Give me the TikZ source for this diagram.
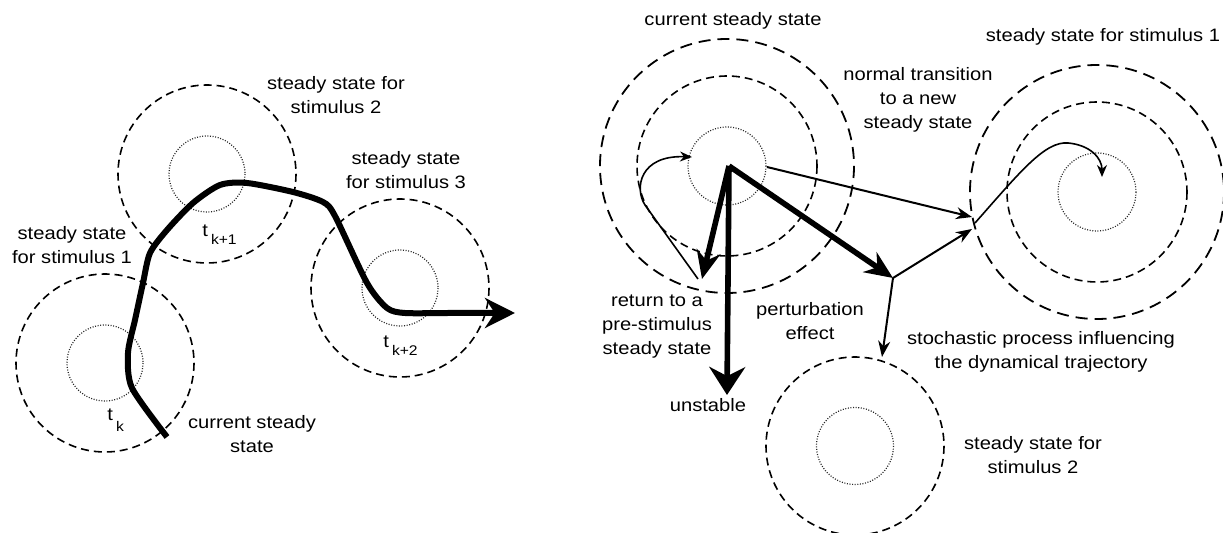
\documentclass[tikz,border=0pt]{standalone}
\usepackage{fontspec}
\setmainfont{Liberation Sans}[FakeStretch=1.12]
\usetikzlibrary{arrows.meta}
\newcommand{\tlab}[2][4pt]{t\,\raisebox{-#1}{\fontsize{7pt}{8pt}\selectfont #2}}

\begin{document}
\begin{tikzpicture}[x=0.5pt, y=-0.5pt,
  lbl/.style={align=center, font=\fontsize{9pt}{12pt}\selectfont, inner sep=0pt},
  ring/.style={line width=0.8pt, dash pattern=on 4pt off 2.5pt},
  bigring/.style={line width=0.9pt, dash pattern=on 6pt off 3.5pt},
  core/.style={black!85, line width=0.6pt, dash pattern=on 0.5pt off 0.8pt},
  trail/.style={line width=3pt, line join=round, -{Stealth[length=15pt,width=15pt]}},
  bigarrow/.style={line width=2.8pt, -{Stealth[length=14pt,width=12pt]}},
  smallarrow/.style={line width=1pt, -{Stealth[length=8pt,width=6pt]}},
  curlarrow/.style={line width=0.8pt, -{Stealth[length=6pt,width=5pt]}}]

  \useasboundingbox (0,0) rectangle (1223,533);

  % Left panel: steady states
  \coordinate (L1) at (105,363);
  \coordinate (L2) at (207,174);
  \coordinate (L3) at (400,288);
  \foreach \c in {L1,L2,L3} {
    \draw[ring] (\c) circle [radius=89];
    \draw[core] (\c) circle [radius=38];
  }

  % Left panel: trajectory
  \draw[trail] plot[smooth, tension=0.45] coordinates {(167,437) (132,388) (128,353) (135,320)
    (143,283) (150,253) (167,230) (193,203) (220,185) (247,183) (293,192) (323,202)
    (335,216) (367,283) (387,308) (405,313) (450,313) (515,313)};

  \node[lbl, anchor=base west] (tk) at (107,421) {\tlab[5.5pt]{k}};
  \node[lbl, anchor=base west] (tk1) at (202,237) {\tlab{k+1}};
  \node[lbl, anchor=base west] (tk2) at (383,348) {\tlab{k+2}};

  \node[lbl] (ls2) at (336,95) {steady state for\\stimulus 2};
  \node[lbl] (ls3) at (406,170) {steady state\\for stimulus 3};
  \node[lbl] (ls1) at (72,245) {steady state\\for stimulus 1};
  \node[lbl] (lcur) at (252,434) {current steady\\state};

  % Right panel: steady states
  \coordinate (A) at (727,166);
  \coordinate (B) at (1097,192);
  \coordinate (C) at (855,446);
  \foreach \c in {A,B} {
    \draw[bigring] (\c) circle [radius=127];
    \draw[ring] (\c) circle [radius=90];
    \draw[core] (\c) circle [radius=39];
  }
  \draw[ring] (C) circle [radius=89];
  \draw[core] (C) circle [radius=38.5];

  % Right panel: end points
  \coordinate (apex) at (729,166);
  \coordinate (ret) at (702,279);
  \coordinate (down) at (727,395);
  \coordinate (pert) at (893,278);
  \coordinate (edgeA) at (767,167);
  \coordinate (hitB) at (972,217);
  \coordinate (hitB2) at (972,229);
  \coordinate (toC) at (882,357);
  \coordinate (inB) at (975,223);
  \coordinate (dotB) at (1102,177);
  \coordinate (back) at (698,279);
  \coordinate (dotA) at (692,157);

  % Right panel: transitions
  \draw[bigarrow] (apex) -- (ret);
  \draw[bigarrow, -{Stealth[length=14pt,width=18pt]}] (apex) -- (down);
  \draw[bigarrow] (apex) -- (pert);
  \draw[smallarrow] (edgeA) -- (hitB);
  \draw[smallarrow] (pert) -- (hitB2);
  \draw[smallarrow] (pert) -- (toC);
  \draw[curlarrow] (back) -- (645,205) .. controls (634,188) and (640,155) .. (dotA);
  \draw[curlarrow] (inB) .. controls (1020,172) and (1045,141) .. (1068,143)
    .. controls (1090,145) and (1102,158) .. (dotB);

  \node[lbl] (rcur) at (733,21) {current steady state};
  \node[lbl] (rs1) at (1103,37) {steady state for stimulus 1};
  \node[lbl] (rnorm) at (918,100) {normal transition\\to a new\\steady state};
  \node[lbl] (rret) at (657,327) {return to a\\pre-stimulus\\steady state};
  \node[lbl] (rpert) at (810,321) {perturbation\\effect};
  \node[lbl] (runst) at (708,405) {unstable};
  \node[lbl] (rstoch) at (1041,352) {stochastic process influencing\\the dynamical trajectory};
  \node[lbl] (rs2) at (1033,455) {steady state for\\stimulus 2};

\end{tikzpicture}
\end{document}
